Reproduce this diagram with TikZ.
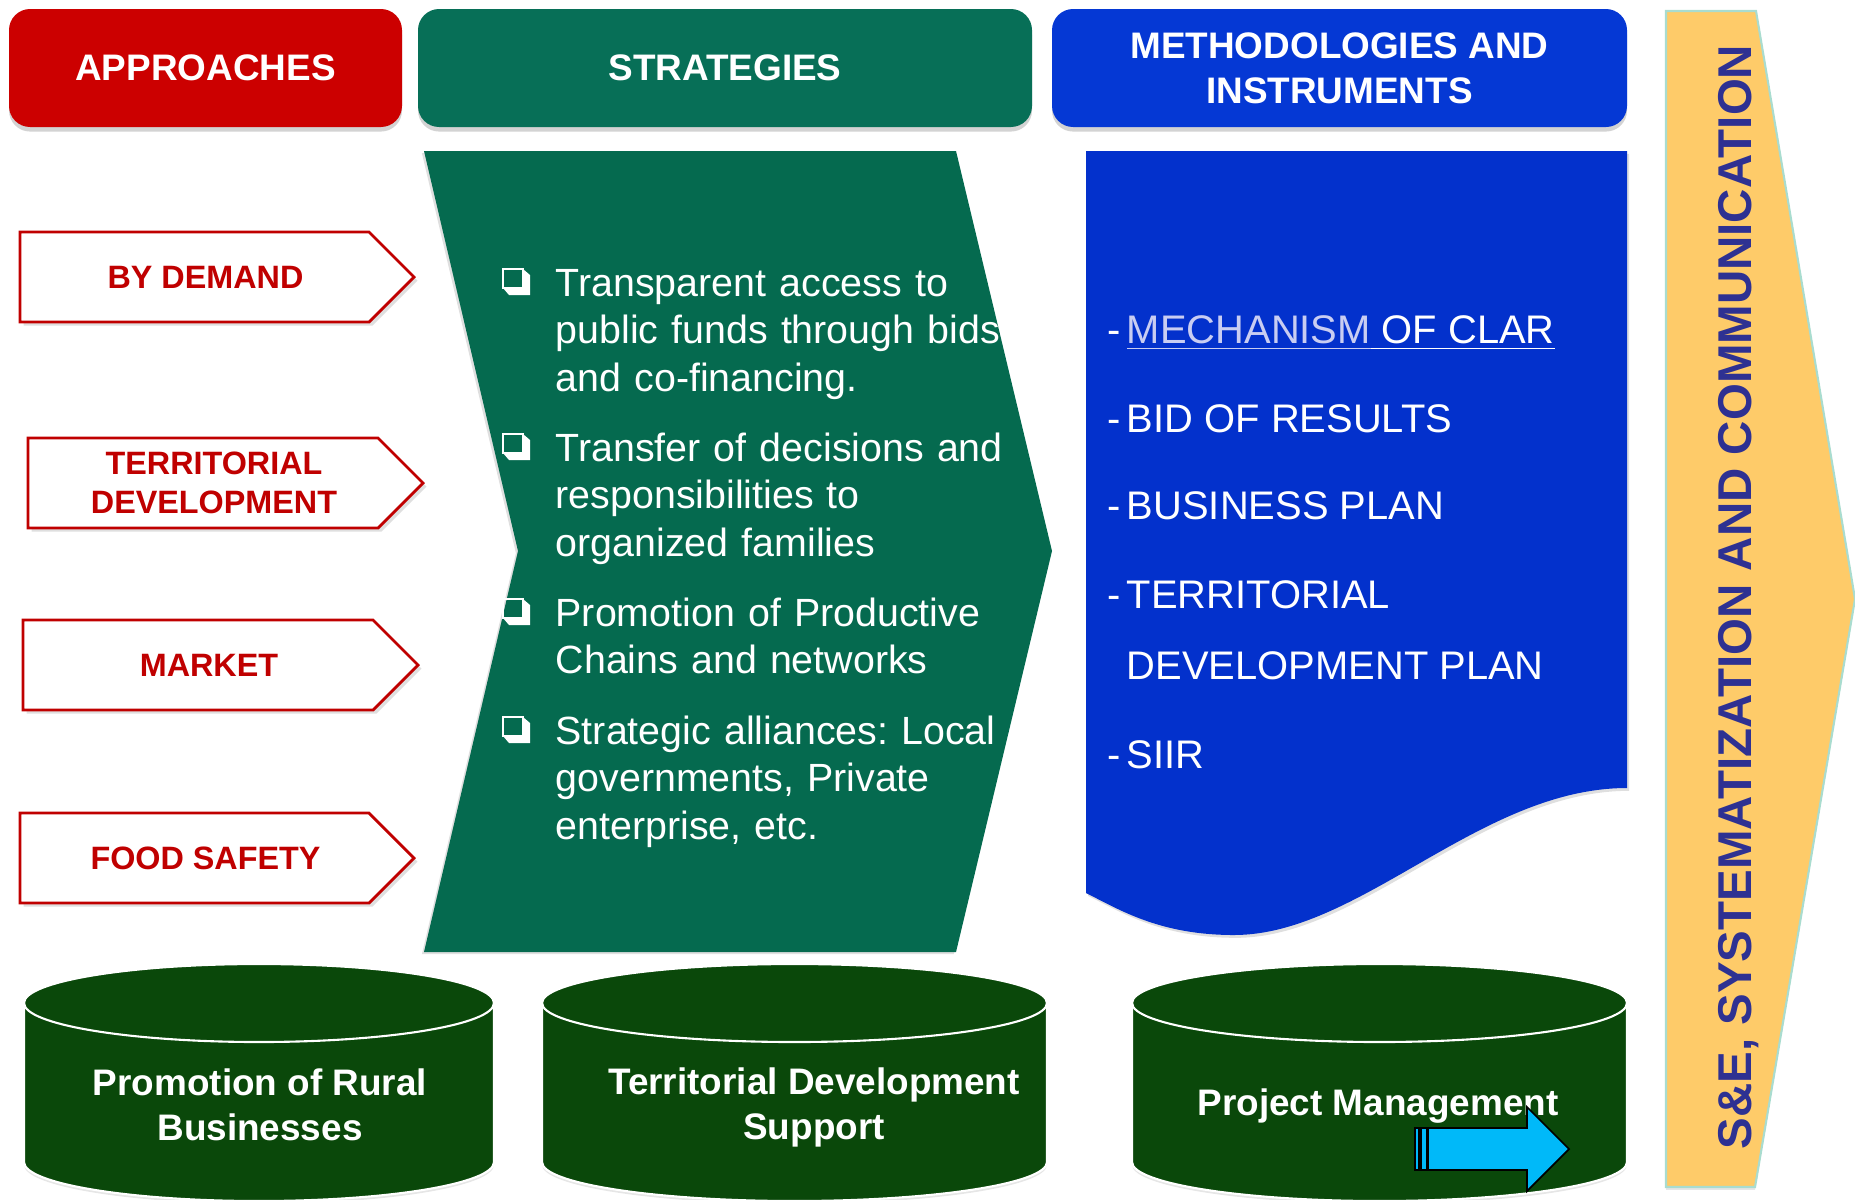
\documentclass[tikz,border=0pt]{standalone}
\usepackage{fontspec}
\setmainfont{Liberation Sans}
\usetikzlibrary{shadows}

\definecolor{apred}{HTML}{CC0000}
\definecolor{stgreen}{HTML}{076F57}
\definecolor{chevgreen}{HTML}{056A4F}
\definecolor{mtblue}{HTML}{0538D4}
\definecolor{docblue}{HTML}{0331CC}
\definecolor{cylgreen}{HTML}{0A480A}
\definecolor{boxred}{HTML}{C00000}
\definecolor{seyellow}{HTML}{FECB69}
\definecolor{seedge}{HTML}{A9DCCF}
\definecolor{setext}{HTML}{2E3192}
\definecolor{linklav}{HTML}{C9CDF2}
\definecolor{arrcyan}{HTML}{00B9F9}

\begin{document}
\begin{tikzpicture}[x=0.1mm, y=-0.1mm,
    header/.style={rounded corners=6pt, text=white, font=\bfseries\fontsize{10.5}{12.8}\selectfont,
        align=center, minimum height=11.8mm, inner sep=0pt,
        drop shadow={shadow xshift=0pt, shadow yshift=-1.3pt, opacity=0.35}},
    apbox/.style={draw=boxred, line width=0.8pt, fill=white,
        drop shadow={shadow xshift=1pt, shadow yshift=-1pt, opacity=0.25}},
    aptext/.style={text=boxred, font=\bfseries\fontsize{9.2}{11.1}\selectfont, align=center, inner sep=0pt},
    strtext/.style={text=white, font=\frenchspacing\fontsize{11.2}{13.65}\selectfont, text width=50mm,
        align=left, anchor=base west, inner sep=0pt},
    mttext/.style={text=white, font=\fontsize{11.35}{13}\selectfont, anchor=base west, inner sep=0pt},
    cyl/.style={fill=cylgreen, draw=white, line width=0.6pt,
        drop shadow={shadow xshift=0pt, shadow yshift=-0.8pt, opacity=0.2}},
    cyltext/.style={text=white, font=\bfseries\fontsize{10.5}{12.8}\selectfont, align=center, inner sep=0pt}]

    \useasboundingbox (0,0) rectangle (1855,1199);

    % column headers
    \node[header, fill=apred, minimum width=39.3mm] (appr) at (205.5,68) {APPROACHES};
    \node[header, fill=stgreen, minimum width=61.4mm] (strat) at (725,68) {STRATEGIES};
    \node[header, fill=mtblue, minimum width=57.5mm] (meth) at (1339.5,68) {METHODOLOGIES AND\\INSTRUMENTS};

    % approaches
    \foreach \nm/\xa/\xb/\xt/\ya/\txt in {demand/20/369/414/232/BY DEMAND,
            terr/28/378/423/438/{TERRITORIAL\\DEVELOPMENT},
            market/23/373/418/620/MARKET,
            food/20/369/414/813/FOOD SAFETY} {
        \draw[apbox] (\xa,\ya) -- (\xb,\ya) -- (\xt,{\ya+45}) -- (\xb,{\ya+90})
            -- (\xa,{\ya+90}) -- cycle;
        \node[aptext] (\nm) at ({(\xa+\xb)/2+11},{\ya+45}) {\txt};
    }

    % strategies chevron
    \fill[chevgreen, drop shadow={shadow xshift=-0.6pt, shadow yshift=-0.6pt, opacity=0.25}]
        (424,151) -- (956,151) -- (1052,551) -- (956,952) -- (424,952) -- (518,551) -- cycle;
    \foreach \nm/\yb/\txt in {access/296/{Transparent access to\\public funds through bids\\and co-financing.},
            transfer/461/{Transfer of decisions and\\responsibilities to\\organized families},
            chains/626/{Promotion of Productive\\Chains and networks},
            alliances/744/{Strategic alliances: Local\\governments, Private\\enterprise, etc.}} {
        % shadowed check box
        \draw[white, line width=0.7pt] (503,{\yb-27}) rectangle (523,{\yb-8});
        \fill[white] (523,{\yb-27}) -- (530,{\yb-21}) -- (530,{\yb-1}) -- (509,{\yb-1})
            -- (503,{\yb-8}) -- (523,{\yb-8}) -- cycle;
        \node[strtext] (\nm) at (555,\yb) {\txt};
    }

    % methodologies document
    \fill[docblue, drop shadow={shadow xshift=0.6pt, shadow yshift=-0.8pt, opacity=0.25}]
        (1086,151) -- (1627,151) -- (1627,788)
        .. controls (1480,788) and (1360,935) .. (1234,935)
        .. controls (1160,935) and (1120,910) .. (1086,893) -- cycle;
    \foreach \nm/\yb/\txt in {clar/343/{-\hspace{1.7pt}\textcolor{linklav}{\underline{MECHANISM}}\underline{\ OF CLAR}},
            bid/432/{-\hspace{1.7pt}BID OF RESULTS},
            bplan/519/{-\hspace{1.7pt}BUSINESS PLAN},
            tdp/608/{-\hspace{1.7pt}TERRITORIAL},
            tdpb/679/{\phantom{-}\hspace{1.7pt}DEVELOPMENT PLAN},
            siir/768/{-\hspace{1.7pt}SIIR}} {
        \node[mttext] (\nm) at (1107,\yb) {\txt};
    }

    % components
    \foreach \nm/\cx/\rx/\tx/\ty/\txt in {rural/259/235/260/1105/{Promotion of Rural\\Businesses},
            tdsupport/794.5/252.5/814/1107/{Territorial Development\\Support},
            projman/1379.5/247.5/1378/1106/{Project Management}} {
        \draw[cyl] ({\cx-\rx},1003) -- ({\cx-\rx},1162)
            arc[start angle=180, end angle=360, x radius=\rx*0.1mm, y radius=3.9mm]
            -- ({\cx+\rx},1003)
            arc[start angle=0, end angle=180, x radius=\rx*0.1mm, y radius=3.9mm] -- cycle;
        \draw[white, line width=0.6pt] ({\cx-\rx},1003)
            arc[start angle=180, end angle=360, x radius=\rx*0.1mm, y radius=3.9mm];
        \node[cyltext] (\nm) at (\tx,\ty) {\txt};
    }

    % striped arrow
    \draw[fill=arrcyan, line width=0.5pt] (1415,1128) rectangle (1419,1170);
    \draw[fill=arrcyan, line width=0.5pt] (1421,1128) rectangle (1427,1170);
    \draw[fill=arrcyan, line width=0.5pt] (1428,1128) -- (1527,1128) -- (1527,1107) -- (1569,1149)
        -- (1527,1191) -- (1527,1170) -- (1428,1170) -- cycle;

    % S&E arrow
    \draw[fill=seyellow, draw=seedge, line width=0.6pt,
        drop shadow={shadow xshift=0pt, shadow yshift=-0.8pt, opacity=0.2}]
        (1666,11) -- (1756,11) -- (1855,599) -- (1755,1187) -- (1666,1187) -- cycle;
    \node[rotate=90, text=setext, font=\bfseries\fontsize{13.5}{16}\selectfont, inner sep=0pt]
        (se) at (1739,597) {S\&E, SYSTEMATIZATION AND COMMUNICATION};
\end{tikzpicture}
\end{document}
